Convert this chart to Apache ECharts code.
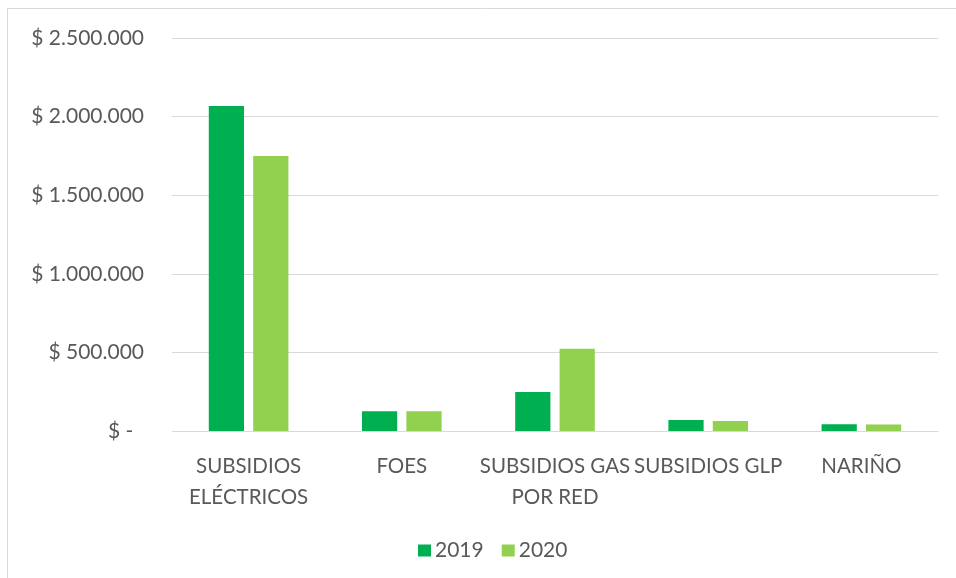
<!DOCTYPE html>
<html>
<head>
<meta charset="utf-8">
<script src="https://cdn.jsdelivr.net/npm/echarts@6/dist/echarts.min.js"></script>
<style>
    html, body { margin: 0; padding: 0; background: #fff; }
    #chart { width: 956px; height: 578px; }
</style>
</head>
<body>
<div id="chart"></div>
<script>
// Chart data
const categories = [
    'SUBSIDIOS\nELÉCTRICOS',
    'FOES',
    'SUBSIDIOS GAS\nPOR RED',
    'SUBSIDIOS GLP',
    'NARIÑO'
];
const values2019 = [2067000, 125000, 248000, 70000, 43000];
const values2020 = [1749000, 125000, 523000, 63000, 41000];
const yTicks = [0, 500000, 1000000, 1500000, 2000000, 2500000];

const textColor = '#595959';
const fontFamily = 'Lato, "Liberation Sans", sans-serif';

// Excel accounting style: "$ 1.500.000", zero as "$ -"
function formatMoney(value) {
    if (value === 0) return '$ -  ';
    return '$ ' + String(value).replace(/\B(?=(\d{3})+(?!\d))/g, '.');
}

const chart = echarts.init(document.getElementById('chart'));

const option = {
    backgroundColor: '#fff',
    animation: false,
    textStyle: { fontFamily: fontFamily },
    graphic: [{
        type: 'rect',
        shape: { x: 7.5, y: 8.5, width: 1000, height: 1000 },
        style: { fill: 'none', stroke: '#D9D9D9', lineWidth: 1 },
        silent: true
    }],
    legend: {
        data: ['2019', '2020'],
        left: 413,
        top: 535,
        itemWidth: 13,
        itemHeight: 12,
        itemGap: 18,
        icon: 'rect',
        textStyle: { color: textColor, fontSize: 21, fontFamily: fontFamily, padding: [0, 0, 0, -1] }
    },
    grid: {
        left: 172,
        right: 18,
        top: 38,
        bottom: 147,
        containLabel: false
    },
    xAxis: {
        type: 'category',
        data: categories,
        axisLine: { show: true, lineStyle: { color: '#D9D9D9', width: 1 } },
        axisTick: { show: false },
        axisLabel: {
            color: textColor,
            fontSize: 20.5,
            fontFamily: fontFamily,
            lineHeight: 31,
            margin: 20,
            interval: 0
        }
    },
    yAxis: {
        type: 'value',
        min: yTicks[0],
        max: yTicks[yTicks.length - 1],
        interval: 500000,
        axisLine: { show: false },
        axisTick: { show: false },
        splitLine: { lineStyle: { color: '#D9D9D9', width: 1 } },
        axisLabel: {
            color: textColor,
            fontSize: 21,
            fontFamily: fontFamily,
            margin: 28,
            formatter: formatMoney
        }
    },
    series: [
        {
            name: '2019',
            type: 'bar',
            data: values2019,
            barWidth: '23%',
            barGap: '26%',
            itemStyle: { color: '#00B050' }
        },
        {
            name: '2020',
            type: 'bar',
            data: values2020,
            barWidth: '23%',
            itemStyle: { color: '#92D050' }
        }
    ]
};

chart.setOption(option);
</script>
</body>
</html>
